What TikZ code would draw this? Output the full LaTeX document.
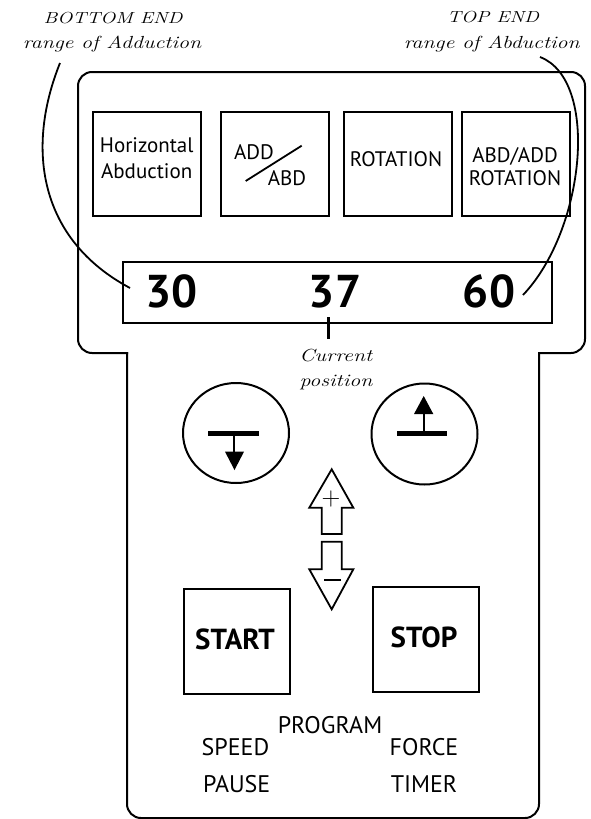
\documentclass[tikz,border=0pt]{standalone}
\usepackage{fontspec}
\usetikzlibrary{shapes.geometric}
\setmainfont{PT Sans}
\newfontfamily\hand{Latin Modern Roman}[FakeStretch=1.25]
\newfontfamily\plainlm{Latin Modern Roman}
\begin{document}
\begin{tikzpicture}[x=1pt,y=-1pt,
  outl/.style={line width=2pt},
  keybox/.style={draw,line width=2pt,minimum width=108pt,minimum height=104pt,inner sep=0pt},
  bigkey/.style={draw,line width=2pt,minimum width=106pt,minimum height=105pt,inner sep=0pt},
  roundkey/.style={draw,line width=2pt,ellipse,minimum width=106pt,minimum height=100pt,inner sep=0pt},
  lbl/.style={font=\fontsize{21}{25}\selectfont,anchor=base,inner sep=0pt},
  low/.style={font=\fontsize{24}{28}\selectfont,anchor=base,inner sep=0pt},
  num/.style={font=\fontsize{46}{50}\selectfont\bfseries,anchor=base,inner sep=0pt},
  bold/.style={font=\fontsize{29}{33}\selectfont\bfseries,anchor=base,inner sep=0pt},
  note/.style={font=\fontsize{17.5}{20}\selectfont\hand\itshape,anchor=base,inner sep=0pt},
  capnote/.style={note,font=\fontsize{16}{18}\selectfont\hand\itshape},
  curve/.style={line width=1.8pt}]
\useasboundingbox (0,0) rectangle (590,819);
% outline
\draw[outl,rounded corners=14,line cap=rect] (127,353) -- (78,353) -- (78,72) -- (585,72) -- (585,353) -- (539,353);
\draw[outl,rounded corners=14,line cap=rect] (539,353) -- (539,818) -- (127,818) -- (127,353);
% mode keys
\node[keybox] (k1) at (147,164) {};
\node[keybox] (k2) at (275,164) {};
\node[keybox] (k3) at (397.5,164) {};
\node[keybox] (k4) at (516,164) {};
\node[lbl] (t1a) at (146.7,152.7) {Horizontal};
\node[lbl] (t1b) at (146.7,178) {Abduction};
\node[lbl] (t2a) at (254,159.3) {ADD};
\node[lbl] (t2b) at (287,185) {ABD};
\coordinate (s1) at (245.7,181);
\coordinate (s2) at (301.7,145.7);
\draw[line width=1.8pt] (s1) -- (s2);
\node[lbl] (t3) at (396,166.7) {ROTATION};
\node[lbl] (t4a) at (515,162.3) {ABD/ADD};
\node[lbl] (t4b) at (515,185) {ROTATION};
% display
\node[draw,line width=2pt,minimum width=428.7pt,minimum height=61pt,inner sep=0pt] (disp) at (337.3,292.5) {};
\node[num] (n30) at (171.3,307) {30};
\node[num] (n37) at (335,307) {37};
\node[num] (n60) at (489,307) {60};
\coordinate (tickA) at (328.3,317);
\coordinate (tickB) at (328.3,339);
\draw[line width=2.4pt] (tickA) -- (tickB);
\node[note] (cur1) at (335.8,361.5) {Current};
\node[note] (cur2) at (336,386) {position};
% top notes
\node[capnote] (bot1) at (113,23.3) {BOTTOM END};
\node[note] (bot2) at (112,48.3) {range of Adduction};
\node[capnote] (top1) at (493,22.7) {TOP END};
\node[note] (top2) at (491.7,48) {range of Abduction};
\coordinate (lc0) at (60,63);
\coordinate (lc1) at (130,288);
\draw[curve] (lc0) .. controls (25,150) and (40,240) .. (lc1);
\coordinate (rc0) at (540,57);
\coordinate (rc1) at (523,295);
\draw[curve] (rc0) .. controls (600,80) and (585,230) .. (rc1);
% round keys
\node[roundkey] (cL) at (236,433) {};
\node[roundkey,minimum height=101pt] (cR) at (424.5,434) {};
% down symbol
\fill (208.3,431) rectangle (259.3,436);
\draw[line width=2pt] (234.3,433) -- (234.3,453);
\fill (225,451.7) -- (244,451.7) -- (234.5,470) -- cycle;
% up symbol
\fill (396.7,431) rectangle (447.3,436);
\draw[line width=2pt] (423.7,433) -- (423.7,413);
\fill (414,414) -- (433.3,414) -- (423.7,396) -- cycle;
% plus / minus arrows
\draw[line width=1.8pt,line join=miter] (321.7,534) -- (321.7,507.7) -- (309.3,507.7) -- (331.7,469.3) -- (353.3,507.7) -- (341.7,507.7) -- (341.7,534) -- cycle;
\node[font=\fontsize{26}{26}\selectfont\plainlm,inner sep=0pt] (plus) at (331,499) {+};
\draw[line width=1.8pt,line join=miter] (321.7,541.7) -- (321.7,569.3) -- (309.3,569.3) -- (331.7,609.3) -- (353.3,569.3) -- (341.7,569.3) -- (341.7,541.7) -- cycle;
\draw[line width=1.3pt] (324,580) -- (341,580);
% start / stop
\node[bigkey] (start) at (236.5,641.5) {};
\node[bigkey] (stop) at (425.5,639.5) {};
\node[bold] (tstart) at (235,649) {START};
\node[bold] (tstop) at (424,647) {STOP};
% lower labels
\node[low] (prog) at (330,733) {PROGRAM};
\node[low] (speed) at (235.5,755) {SPEED};
\node[low] (force) at (424,755) {FORCE};
\node[low] (pause) at (236.7,792) {PAUSE};
\node[low] (timer) at (424,792) {TIMER};
\end{tikzpicture}
\end{document}
